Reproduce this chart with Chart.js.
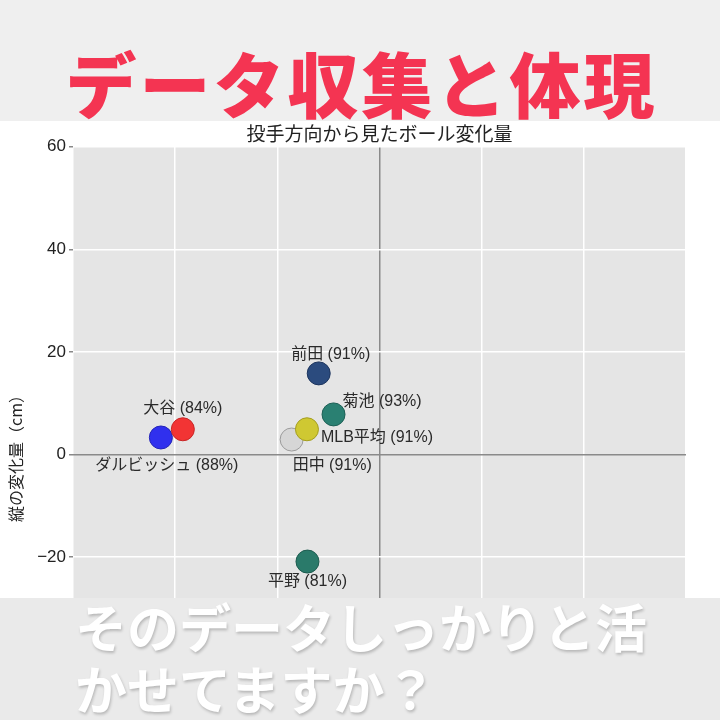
<!DOCTYPE html>
<html lang="ja">
<head>
<meta charset="utf-8">
<script src="https://cdn.jsdelivr.net/npm/chart.js"></script>
<style>
  html, body { margin: 0; padding: 0; }
  body {
    width: 720px; height: 720px; overflow: hidden; position: relative;
    background: #fff; font-family: "Noto Sans CJK JP", "Noto Sans", sans-serif;
  }
  #top { position: absolute; left: 0; top: 0; width: 720px; height: 121px; background: #efefef; }
  #top h1 {
    margin: 0; position: absolute; left: 0; top: 37px; width: 720px;
    text-align: center; font-size: 71px; line-height: 88px; font-weight: 900; color: #f43452;
    letter-spacing: 3px; text-indent: 3px;
  }
  #chartBox { position: absolute; left: 0; top: 121px; width: 720px; height: 691px; }
  #bottom { position: absolute; left: 0; top: 598px; width: 720px; height: 122px; background: #eaeaea; }
  #bottom p {
    margin: 0; position: absolute; left: 75px; top: -3px;
    font-size: 52px; line-height: 62px; font-weight: 700; color: #fff;
    text-shadow: 1px 2px 3px rgba(0, 0, 0, 0.22);
  }
</style>
</head>
<body>
<div id="top"><h1>データ収集と体現</h1></div>
<div id="chartBox"><canvas id="breakChart" width="720" height="691"></canvas></div>
<div id="bottom"><p>そのデータしっかりと活<br>かせてますか？</p></div>
<script>
// 投手ごとの横・縦の変化量（cm）と割合
const pitchers = ["ダルビッシュ", "大谷", "田中", "MLB平均", "平野", "菊池", "前田"];
const rates = [88, 84, 91, 91, 81, 93, 91];
const horizBreak = [-42.8, -38.5, -17.2, -14.2, -14.1, -9.0, -11.9];
const vertBreak = [3.3, 4.9, 2.9, 4.9, -20.9, 7.8, 15.8];
const yTicks = [-60, -40, -20, 0, 20, 40, 60];

const fills = ["#3030ee", "#f23434", "#d6d6d6", "#cfc832", "#2a7a6a", "#2a8072", "#2b4b7e"];
const edges = ["#2424b8", "#c82626", "#9c9c9c", "#a49e20", "#1e5c50", "#1e6056", "#1d355e"];
// label anchor: [align, dx, dy]
const labelPos = [
  ["center", 6, 28], ["center", 0, -21], ["left", 1, 26], ["left", 14, 8],
  ["center", 0, 20], ["left", 9, -13], ["center", 12, -19]
];

const fontStack = "'Liberation Sans', 'Noto Sans CJK JP', sans-serif";
Chart.defaults.font.family = fontStack;

const plotBg = {
  id: "plotBg",
  beforeDraw(chart) {
    const { ctx, chartArea: a } = chart;
    ctx.save();
    ctx.fillStyle = "#e5e5e5";
    ctx.fillRect(a.left, a.top, a.width, a.height);
    ctx.restore();
  }
};

const pointLabels = {
  id: "pointLabels",
  afterDatasetsDraw(chart) {
    const { ctx, scales } = chart;
    ctx.save();
    ctx.font = "16px " + fontStack;
    ctx.fillStyle = "#2a2a2a";
    ctx.textBaseline = "middle";
    pitchers.forEach((name, i) => {
      const [align, dx, dy] = labelPos[i];
      const px = scales.x.getPixelForValue(horizBreak[i]);
      const py = scales.y.getPixelForValue(vertBreak[i]);
      ctx.textAlign = align;
      ctx.fillText(name + " (" + rates[i] + "%)", px + dx, py + dy);
    });
    ctx.restore();
  }
};

const gridColor = (ctx) => (ctx.tick && ctx.tick.value === 0 ? "#8a8a8a" : "#ffffff");
const minusSign = (v) => String(v).replace("-", "\u2212");

new Chart(document.getElementById("breakChart"), {
  type: "scatter",
  data: {
    datasets: [
      {
        data: pitchers.map((p, i) => ({ x: horizBreak[i], y: vertBreak[i] })),
        backgroundColor: fills,
        borderColor: edges,
        borderWidth: 1,
        pointRadius: 11.5,
        pointHoverRadius: 11.5
      }
    ]
  },
  options: {
    responsive: false,
    animation: false,
    layout: { padding: { left: 0, right: 34, top: 0, bottom: 0 } },
    plugins: {
      legend: { display: false },
      tooltip: { enabled: false },
      title: {
        display: true,
        text: "投手方向から見たボール変化量",
        fullSize: false,
        color: "#222",
        font: { size: 19, weight: "normal", family: "'Noto Sans CJK JP', sans-serif" },
        padding: { top: 1, bottom: 2 }
      }
    },
    scales: {
      x: {
        type: "linear",
        min: -60,
        max: 60,
        ticks: { stepSize: 20, color: "#222", font: { size: 17 }, callback: minusSign },
        grid: { color: gridColor, lineWidth: 1.5, tickColor: "#888", tickLength: 4 },
        border: { display: false },
        afterFit: (s) => { s.height = 50; }
      },
      y: {
        min: -60,
        max: 60,
        afterBuildTicks: (s) => { s.ticks = yTicks.map((v) => ({ value: v })); },
        ticks: { color: "#222", font: { size: 17 }, padding: 3, callback: minusSign },
        grid: { color: gridColor, lineWidth: 1.5, tickColor: "#888", tickLength: 4 },
        border: { display: false },
        title: {
          display: true,
          text: "縦の変化量（cm）",
          color: "#222",
          font: { size: 16, family: "'Noto Sans CJK JP', sans-serif" },
          padding: { top: 6, bottom: 0 }
        },
        afterFit: (s) => { s.width = 73; }
      }
    }
  },
  plugins: [plotBg, pointLabels]
});
</script>
</body>
</html>
